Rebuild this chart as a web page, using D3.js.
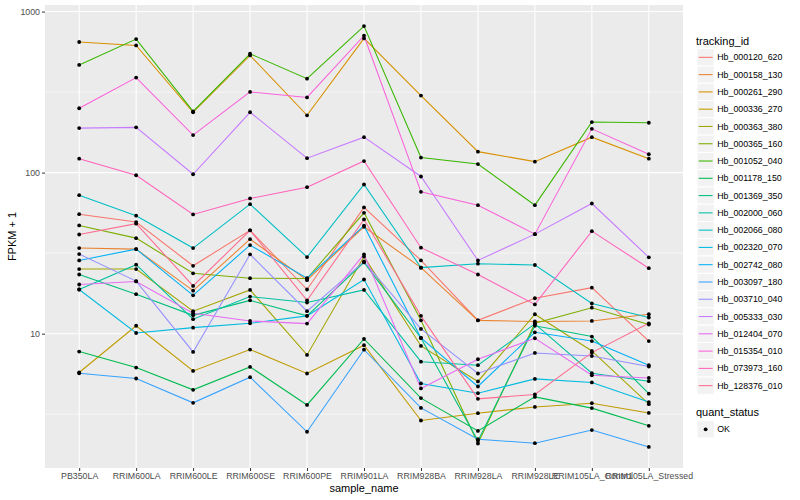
<!DOCTYPE html>
<html>
<head>
<meta charset="utf-8">
<script src="https://cdn.jsdelivr.net/npm/d3@7"></script>
<style>
  body { margin: 0; background: #fff; }
  svg { font-family: "Liberation Sans", Arial, sans-serif; }
</style>
</head>
<body>
<svg id="chart" width="800" height="500"></svg>
<script>
const samples = ["PB350LA", "RRIM600LA", "RRIM600LE", "RRIM600SE", "RRIM600PE", "RRIM901LA",
  "RRIM928BA", "RRIM928LA", "RRIM928LE", "RRIM105LA_Control", "RRIM105LA_Stressed"];

const trackingIds = ["Hb_000120_620", "Hb_000158_130", "Hb_000261_290", "Hb_000336_270", "Hb_000363_380",
  "Hb_000365_160", "Hb_001052_040", "Hb_001178_150", "Hb_001369_350", "Hb_002000_060",
  "Hb_002066_080", "Hb_002320_070", "Hb_002742_080", "Hb_003097_180", "Hb_003710_040",
  "Hb_005333_030", "Hb_012404_070", "Hb_015354_010", "Hb_073973_160", "Hb_128376_010"];

// FPKM + 1 per sample, one array per transcript
const hb_000120_620 = [55.2, 49.3, 26.4, 43.8, 18.8, 60.8, 28.5, 12.1, 16.6, 19.3, 9.0];
const hb_000158_130 = [34.0, 33.5, 18.5, 38.6, 21.5, 46.1, 25.7, 12.1, 11.9, 12.0, 13.2];
const hb_000261_290 = [647, 616, 237, 534, 227, 681, 301, 135, 117, 166, 122];
const hb_000336_270 = [5.74, 11.2, 5.87, 7.97, 5.66, 8.48, 2.89, 3.21, 3.51, 3.70, 3.22];
const hb_000363_380 = [25.2, 25.2, 13.8, 18.7, 7.38, 30.1, 8.39, 5.05, 13.2, 7.81, 3.65];
const hb_000365_160 = [47.0, 39.2, 23.7, 22.1, 22.0, 56.3, 12.1, 2.08, 11.6, 14.5, 11.4];
const hb_001052_040 = [466, 675, 240, 547, 383, 813, 124, 113, 62.8, 206, 204];
const hb_001178_150 = [7.74, 6.16, 4.48, 6.22, 3.61, 9.27, 3.98, 2.49, 4.05, 3.45, 2.68];
const hb_001369_350 = [23.3, 17.6, 13.0, 16.1, 12.9, 27.7, 9.4, 2.16, 11.2, 9.6, 4.24];
const hb_002000_060 = [18.8, 26.8, 12.3, 17.0, 15.6, 18.7, 6.7, 6.37, 11.5, 5.68, 5.07];
const hb_002066_080 = [72.4, 54.0, 34.0, 63.7, 29.9, 84.4, 25.7, 27.2, 26.7, 15.4, 12.6];
const hb_002320_070 = [18.8, 10.1, 10.9, 11.6, 12.9, 21.7, 4.91, 4.27, 5.24, 4.98, 3.76];
const hb_002742_080 = [28.5, 33.5, 17.3, 35.5, 22.1, 46.8, 9.4, 4.7, 10.2, 9.0, 6.37];
const hb_003097_180 = [5.68, 5.27, 3.72, 5.37, 2.46, 7.95, 3.46, 2.21, 2.09, 2.52, 1.98];
const hb_003710_040 = [31.2, 21.2, 7.7, 31.1, 13.8, 28.1, 10.7, 5.66, 7.59, 7.27, 6.25];
const hb_005333_030 = [189, 191, 97.7, 237, 123, 166, 94.6, 28.5, 41.5, 64.3, 29.8];
const hb_012404_070 = [20.2, 21.1, 13.4, 12.0, 11.55, 31.1, 4.57, 6.94, 9.37, 5.52, 5.31];
const hb_015354_010 = [251, 389, 171, 317, 293, 708, 76.0, 62.8, 41.5, 187, 130];
const hb_073973_160 = [122, 96.3, 55.0, 69.1, 81.2, 118, 34.2, 23.3, 15.2, 43.3, 25.5];
const hb_128376_010 = [41.3, 48.2, 19.8, 43.8, 16.1, 51.2, 12.9, 3.94, 4.19, 7.63, 11.6];

const seriesValues = [hb_000120_620, hb_000158_130, hb_000261_290, hb_000336_270, hb_000363_380,
  hb_000365_160, hb_001052_040, hb_001178_150, hb_001369_350, hb_002000_060,
  hb_002066_080, hb_002320_070, hb_002742_080, hb_003097_180, hb_003710_040,
  hb_005333_030, hb_012404_070, hb_015354_010, hb_073973_160, hb_128376_010];

const majorTicks = [10, 100, 1000];
const minorTicks = [Math.pow(10, 0.5), Math.pow(10, 1.5), Math.pow(10, 2.5)];

// ggplot default hue palette for 20 levels
const hueColors = ["#F8766D", "#EA8331", "#D89000", "#C09B00", "#A3A500", "#7CAE00", "#39B600",
  "#00BB4E", "#00BF7D", "#00C1A3", "#00BFC4", "#00BAE0", "#00B0F6", "#35A2FF", "#9590FF",
  "#C77CFF", "#E76BF3", "#FA62DB", "#FF62BC", "#FF6C91"];

const series = trackingIds.map((id, i) => ({ id, values: seriesValues[i] }));

const panel = { left: 45, right: 683, top: 5, bottom: 468 };
const svg = d3.select("#chart");

// log scale with ggplot's 5% expansion
const allVals = series.flatMap(s => s.values);
const lo = Math.log10(d3.min(allVals)), hi = Math.log10(d3.max(allVals));
const pad = (hi - lo) * 0.05;
const y = d3.scaleLog().domain([Math.pow(10, lo - pad), Math.pow(10, hi + pad)])
  .range([panel.bottom, panel.top]);
const x = d3.scalePoint().domain(samples).range([panel.left, panel.right]).padding(0.6);
const color = d3.scaleOrdinal().domain(trackingIds).range(hueColors);

svg.append("rect")
  .attr("x", panel.left).attr("y", panel.top)
  .attr("width", panel.right - panel.left).attr("height", panel.bottom - panel.top)
  .attr("fill", "#EBEBEB");

const grid = svg.append("g");
grid.selectAll(".minor").data(minorTicks).enter().append("line")
  .attr("x1", panel.left).attr("x2", panel.right)
  .attr("y1", d => y(d)).attr("y2", d => y(d))
  .attr("stroke", "#fff").attr("stroke-width", 0.55);
grid.selectAll(".major").data(majorTicks).enter().append("line")
  .attr("x1", panel.left).attr("x2", panel.right)
  .attr("y1", d => y(d)).attr("y2", d => y(d))
  .attr("stroke", "#fff").attr("stroke-width", 1.1);
grid.selectAll(".vmajor").data(samples).enter().append("line")
  .attr("x1", d => x(d)).attr("x2", d => x(d))
  .attr("y1", panel.top).attr("y2", panel.bottom)
  .attr("stroke", "#fff").attr("stroke-width", 1.1);

// axes
const yAxis = svg.append("g").attr("transform", `translate(${panel.left},0)`)
  .call(d3.axisLeft(y).tickValues(majorTicks).tickFormat(d3.format("d")).tickSize(3).tickPadding(2));
const xAxis = svg.append("g").attr("transform", `translate(0,${panel.bottom})`)
  .call(d3.axisBottom(x).tickSize(3).tickPadding(2));
[yAxis, xAxis].forEach(a => {
  a.select(".domain").remove();
  a.selectAll(".tick line").attr("stroke", "#333333").attr("stroke-width", 1);
  a.selectAll(".tick text").attr("fill", "#4D4D4D").style("font-size", "8.8px")
    .style("font-family", "'Liberation Sans', Arial, sans-serif");
});

svg.append("text")
  .attr("transform", `translate(15.5,${(panel.top + panel.bottom) / 2}) rotate(-90)`)
  .attr("text-anchor", "middle").style("font-size", "11px").attr("fill", "#000")
  .text("FPKM + 1");
svg.append("text")
  .attr("x", (panel.left + panel.right) / 2).attr("y", 492)
  .attr("text-anchor", "middle").style("font-size", "11px").attr("fill", "#000")
  .text("sample_name");

// lines then points
const line = d3.line().x((d, i) => x(samples[i])).y(d => y(d));
const plot = svg.append("g");
plot.selectAll(".series").data(series).enter().append("path")
  .attr("d", d => line(d.values))
  .attr("fill", "none").attr("stroke", d => color(d.id)).attr("stroke-width", 1.07);

const points = series.flatMap(s => s.values.map((v, i) => ({ sample: samples[i], v })));
plot.selectAll(".pt").data(points).enter().append("circle")
  .attr("cx", d => x(d.sample)).attr("cy", d => y(d.v)).attr("r", 1.9)
  .attr("fill", "#000");

// legend: tracking_id
const legend = svg.append("g");
const keySize = 17.28, legX = 697, legTop = 48.7;
legend.append("text").attr("x", 696).attr("y", 44.5).style("font-size", "11px").text("tracking_id");
const items = legend.selectAll(".item").data(trackingIds).enter().append("g")
  .attr("transform", (d, i) => `translate(${legX},${legTop + i * keySize})`);
items.append("rect").attr("width", keySize).attr("height", keySize)
  .attr("fill", "#F2F2F2").attr("stroke", "#fff").attr("stroke-width", 1);
items.append("line").attr("x1", 1.7).attr("x2", keySize - 1.7)
  .attr("y1", keySize / 2).attr("y2", keySize / 2)
  .attr("stroke", d => color(d)).attr("stroke-width", 1.07);
items.append("text").attr("x", keySize + 3).attr("y", keySize / 2).attr("dy", "0.35em")
  .style("font-size", "8.8px").text(d => d);

// legend: quant_status
const qTop = 420.7;
legend.append("text").attr("x", 696).attr("y", 416).style("font-size", "11px").text("quant_status");
const q = legend.append("g").attr("transform", `translate(${legX},${qTop})`);
q.append("rect").attr("width", keySize).attr("height", keySize)
  .attr("fill", "#F2F2F2").attr("stroke", "#fff").attr("stroke-width", 1);
q.append("circle").attr("cx", keySize / 2).attr("cy", keySize / 2).attr("r", 1.9).attr("fill", "#000");
q.append("text").attr("x", keySize + 3).attr("y", keySize / 2).attr("dy", "0.35em")
  .style("font-size", "8.8px").text("OK");
</script>
</body>
</html>
